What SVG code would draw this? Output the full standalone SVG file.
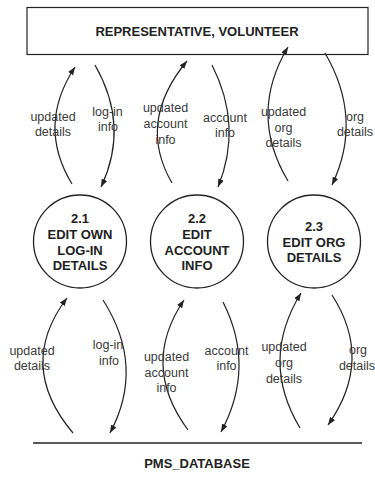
<svg xmlns="http://www.w3.org/2000/svg" width="375" height="483" viewBox="0 0 375 483">
<style>
.box{fill:#fff;stroke:#222;stroke-width:1.2}
.proc{fill:#fff;stroke:#222;stroke-width:1.3}
.t{font-family:"Liberation Sans",Arial,sans-serif;font-weight:bold;font-size:13px;fill:#222;text-anchor:middle}
.lbl{font-family:"Liberation Sans",Arial,sans-serif;font-size:12.5px;fill:#3a3a3a;text-anchor:middle}
.flow{fill:none;stroke:#222;stroke-width:1.2;marker-end:url(#ah)}
</style>
<defs>
<marker id="ah" viewBox="0 0 8 6" refX="8" refY="3" markerWidth="8" markerHeight="6" markerUnits="userSpaceOnUse" orient="auto">
<path d="M0,0 L8,3 L0,6 z" fill="#222"/>
</marker>
</defs>
<rect width="375" height="483" fill="#fff"/>
<g id="entity-rep-volunteer">
<rect class="box" x="27" y="7.5" width="341" height="47"/>
<text class="t" x="197" y="36">REPRESENTATIVE, VOLUNTEER</text>
</g>
<g id="process-2-1">
<circle class="proc" cx="80" cy="241.5" r="46.5"/>
<text class="t" x="80" y="223">2.1</text>
<text class="t" x="80" y="239">EDIT OWN</text>
<text class="t" x="80" y="254.5">LOG-IN</text>
<text class="t" x="80" y="270">DETAILS</text>
</g>
<g id="process-2-2">
<circle class="proc" cx="197" cy="241.5" r="46.5"/>
<text class="t" x="197" y="223">2.2</text>
<text class="t" x="197" y="239">EDIT</text>
<text class="t" x="197" y="254.5">ACCOUNT</text>
<text class="t" x="197" y="270">INFO</text>
</g>
<g id="process-2-3">
<circle class="proc" cx="314" cy="241.5" r="46.5"/>
<text class="t" x="314" y="231">2.3</text>
<text class="t" x="314" y="246.5">EDIT ORG</text>
<text class="t" x="314" y="262">DETAILS</text>
</g>
<g id="store-pms-database">
<line x1="33" y1="443" x2="362" y2="443" stroke="#222" stroke-width="1.5"/>
<text class="t" x="197" y="468">PMS_DATABASE</text>
</g>
<g id="connectors">
<path class="flow" d="M72,184 Q36.5,125.5 75,67"/>
<path class="flow" d="M95,65 Q130,126 101,187"/>
<path class="flow" d="M172,183 Q136.5,122 187,61"/>
<path class="flow" d="M212,65 Q243,126 218,187"/>
<path class="flow" d="M288,181 Q248,114 288,47"/>
<path class="flow" d="M325,53 Q363.5,119 332,185"/>
<path class="flow" d="M73,433 Q16,365.5 67,298"/>
<path class="flow" d="M103,300 Q145.5,366.5 110,433"/>
<path class="flow" d="M188,430 Q140,365 184,300"/>
<path class="flow" d="M223,302 Q256,367 221,432"/>
<path class="flow" d="M300,428 Q259.5,360.5 301,293"/>
<path class="flow" d="M332,295 Q374,360 328,425"/>
<g id="connector-labels">
<text class="lbl" x="53" y="121">updated</text>
<text class="lbl" x="53" y="136">details</text>
<text class="lbl" x="107.5" y="116">log-in</text>
<text class="lbl" x="108" y="131">info</text>
<text class="lbl" x="165.5" y="112">updated</text>
<text class="lbl" x="165.5" y="128">account</text>
<text class="lbl" x="165.5" y="144">info</text>
<text class="lbl" x="225" y="122">account</text>
<text class="lbl" x="225" y="137">info</text>
<text class="lbl" x="283.5" y="116">updated</text>
<text class="lbl" x="283.5" y="131.5">org</text>
<text class="lbl" x="283.5" y="147">details</text>
<text class="lbl" x="355" y="121">org</text>
<text class="lbl" x="355" y="136">details</text>
<text class="lbl" x="32" y="354.5">updated</text>
<text class="lbl" x="32" y="370">details</text>
<text class="lbl" x="108" y="349">log-in</text>
<text class="lbl" x="109" y="365">info</text>
<text class="lbl" x="166.5" y="361">updated</text>
<text class="lbl" x="166.5" y="376.5">account</text>
<text class="lbl" x="166.5" y="392">info</text>
<text class="lbl" x="226.5" y="354.5">account</text>
<text class="lbl" x="226.5" y="370">info</text>
<text class="lbl" x="284" y="351">updated</text>
<text class="lbl" x="284" y="367">org</text>
<text class="lbl" x="284" y="382.5">details</text>
<text class="lbl" x="358" y="354">org</text>
<text class="lbl" x="357" y="369.5">details</text>
</g>
</g>
</svg>
